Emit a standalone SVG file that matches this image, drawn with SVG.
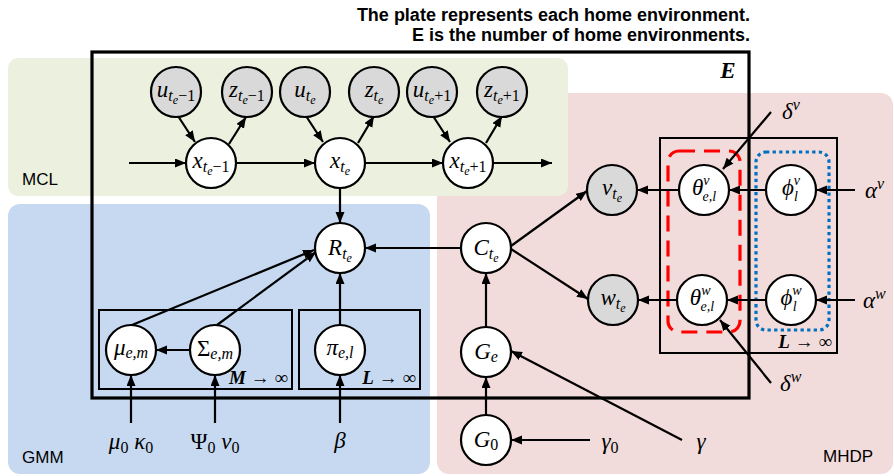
<svg xmlns="http://www.w3.org/2000/svg" width="894" height="476" viewBox="0 0 894 476">
<style>
.bg{stroke:none}
.nd{stroke:#000;stroke-width:2.2;fill:#fff}
.obs{fill:#d9d9d9}
.plate{fill:none;stroke:#000;stroke-width:2}
.eplate{fill:none;stroke:#000;stroke-width:3.2}
.ca{stroke:#000;stroke-width:2.2;fill:none;marker-end:url(#ah)}
.m{font-family:"Liberation Serif","DejaVu Serif",serif;font-style:italic;font-size:23px;text-anchor:middle;fill:#000}
.st{text-anchor:start}
.s{font-size:16px}
.sp{font-size:14px}
.ss{font-size:12px}
.up{font-style:normal}
.lab{font-family:"Liberation Sans",Arial,sans-serif;font-size:17px;fill:#000}
.title{font-family:"Liberation Sans",Arial,sans-serif;font-size:18px;font-weight:bold;text-anchor:end;fill:#000}
.pl{font-family:"Liberation Serif","DejaVu Serif",serif;font-size:19px;text-anchor:end;fill:#000}
.b{font-weight:bold;font-style:italic}
</style>
<defs>
<marker id="ah" markerUnits="userSpaceOnUse" markerWidth="12" markerHeight="10" refX="11" refY="4.5" orient="auto">
<path d="M0,0 L11,4.5 L0,9 z" fill="#000"/>
</marker>
</defs>

<g id="panels">
<rect class="bg" x="437" y="93" width="456" height="381" rx="12" fill="#f2dcdb"/>
<rect class="bg" x="8" y="58" width="560" height="138" rx="10" fill="#ebf1de"/>
<rect class="bg" x="8" y="204" width="422" height="270" rx="12" fill="#c6d9f1"/>
<text class="lab" x="22" y="185">MCL</text>
<text class="lab" x="22" y="463">GMM</text>
<text class="lab" x="823" y="462">MHDP</text>
</g>

<g id="title">
<text class="title" x="750" y="21">The plate represents each home environment.</text>
<text class="title" x="750" y="41">E is the number of home environments.</text>
</g>

<g id="plates">
<rect class="eplate" x="92" y="52" width="657" height="346"/>
<text class="m b" x="728" y="78" font-size="17">E</text>
<rect class="plate" x="99" y="310" width="193" height="79"/>
<text class="pl" x="288" y="384"><tspan class="b">M</tspan> → ∞</text>
<rect class="plate" x="299" y="310" width="121" height="79"/>
<text class="pl" x="416" y="384"><tspan class="b">L</tspan> → ∞</text>
<rect class="plate" x="660" y="138" width="177" height="215"/>
<text class="pl" x="832" y="348"><tspan class="b">L</tspan> → ∞</text>
<rect x="668" y="151" width="72" height="181" rx="11" fill="none" stroke="#ff0000" stroke-width="3.2" stroke-dasharray="16 9"/>
<rect x="756" y="152" width="73" height="178" rx="10" fill="none" stroke="#0070c0" stroke-width="3.2" stroke-dasharray="3.3 3.3"/>
</g>

<g id="connectors">
<line class="ca" x1="129" y1="163" x2="186" y2="163"/>
<line class="ca" x1="236" y1="163" x2="315" y2="163"/>
<line class="ca" x1="365" y1="163" x2="443" y2="163"/>
<line class="ca" x1="493" y1="163" x2="552" y2="163"/>
<line class="ca" x1="178" y1="116" x2="195" y2="142"/>
<line class="ca" x1="229" y1="144" x2="246" y2="117"/>
<line class="ca" x1="306" y1="116" x2="323" y2="142"/>
<line class="ca" x1="358" y1="143" x2="374" y2="116"/>
<line class="ca" x1="433" y1="116" x2="450" y2="142"/>
<line class="ca" x1="486" y1="143" x2="502" y2="116"/>
<line class="ca" x1="340" y1="188" x2="340" y2="223"/>
<line class="ca" x1="461" y1="248" x2="365" y2="248"/>
<line class="ca" x1="486" y1="327" x2="486" y2="273"/>
<line class="ca" x1="486" y1="415" x2="486" y2="377"/>
<line class="ca" x1="590" y1="440" x2="511" y2="440"/>
<line class="ca" x1="682" y1="440" x2="511" y2="351"/>
<line class="ca" x1="511" y1="246" x2="587" y2="191"/>
<line class="ca" x1="511" y1="249" x2="588" y2="299"/>
<line class="ca" x1="679" y1="190" x2="637" y2="190"/>
<line class="ca" x1="766" y1="190" x2="729" y2="190"/>
<line class="ca" x1="855" y1="190" x2="816" y2="190"/>
<line class="ca" x1="677" y1="300" x2="638" y2="300"/>
<line class="ca" x1="766" y1="300" x2="727" y2="300"/>
<line class="ca" x1="855" y1="300" x2="816" y2="300"/>
<line class="ca" x1="771" y1="112" x2="723" y2="169"/>
<line class="ca" x1="771" y1="383" x2="720" y2="320"/>
<line class="ca" x1="190" y1="350" x2="156" y2="350"/>
<line class="ca" x1="132" y1="325" x2="314" y2="250"/>
<line class="ca" x1="217" y1="325" x2="316" y2="252"/>
<line class="ca" x1="340" y1="325" x2="340" y2="273"/>
<line class="ca" x1="131" y1="423" x2="131" y2="375"/>
<line class="ca" x1="215" y1="423" x2="215" y2="375"/>
<line class="ca" x1="340" y1="423" x2="340" y2="375"/>
</g>

<g id="n-u1"><circle class="nd obs" cx="176" cy="92" r="25"/><text class="m" x="176" y="97">u<tspan class="s" dy="4">t</tspan><tspan class="ss" dy="3">e</tspan><tspan class="s up" dy="-3">−1</tspan></text></g>
<g id="n-z1"><circle class="nd obs" cx="247" cy="92" r="25"/><text class="m" x="247" y="97">z<tspan class="s" dy="4">t</tspan><tspan class="ss" dy="3">e</tspan><tspan class="s up" dy="-3">−1</tspan></text></g>
<g id="n-u2"><circle class="nd obs" cx="305" cy="92" r="25"/><text class="m" x="305" y="97">u<tspan class="s" dy="4">t</tspan><tspan class="ss" dy="3">e</tspan></text></g>
<g id="n-z2"><circle class="nd obs" cx="374" cy="92" r="25"/><text class="m" x="374" y="97">z<tspan class="s" dy="4">t</tspan><tspan class="ss" dy="3">e</tspan></text></g>
<g id="n-u3"><circle class="nd obs" cx="432" cy="92" r="25"/><text class="m" x="432" y="97">u<tspan class="s" dy="4">t</tspan><tspan class="ss" dy="3">e</tspan><tspan class="s up" dy="-3">+1</tspan></text></g>
<g id="n-z3"><circle class="nd obs" cx="502" cy="92" r="25"/><text class="m" x="502" y="97">z<tspan class="s" dy="4">t</tspan><tspan class="ss" dy="3">e</tspan><tspan class="s up" dy="-3">+1</tspan></text></g>
<g id="n-x1"><circle class="nd" cx="211" cy="163" r="25"/><text class="m" x="211" y="168">x<tspan class="s" dy="4">t</tspan><tspan class="ss" dy="3">e</tspan><tspan class="s up" dy="-3">−1</tspan></text></g>
<g id="n-x2"><circle class="nd" cx="340" cy="163" r="25"/><text class="m" x="340" y="168">x<tspan class="s" dy="4">t</tspan><tspan class="ss" dy="3">e</tspan></text></g>
<g id="n-x3"><circle class="nd" cx="468" cy="163" r="25"/><text class="m" x="468" y="168">x<tspan class="s" dy="4">t</tspan><tspan class="ss" dy="3">e</tspan><tspan class="s up" dy="-3">+1</tspan></text></g>
<g id="n-R"><circle class="nd" cx="340" cy="248" r="25"/><text class="m" x="340" y="255">R<tspan class="s" dy="4">t</tspan><tspan class="ss" dy="3">e</tspan></text></g>
<g id="n-C"><circle class="nd" cx="486" cy="248" r="25"/><text class="m" x="486" y="255">C<tspan class="s" dy="4">t</tspan><tspan class="ss" dy="3">e</tspan></text></g>
<g id="n-Ge"><circle class="nd" cx="486" cy="352" r="25"/><text class="m" x="486" y="359">G<tspan class="s" dy="3">e</tspan></text></g>
<g id="n-G0"><circle class="nd" cx="486" cy="440" r="25"/><text class="m" x="486" y="447">G<tspan class="s up" dy="3">0</tspan></text></g>
<g id="n-v"><circle class="nd obs" cx="612" cy="190" r="25"/><text class="m" x="612" y="195">v<tspan class="s" dy="4">t</tspan><tspan class="ss" dy="3">e</tspan></text></g>
<g id="n-w"><circle class="nd obs" cx="613" cy="300" r="25"/><text class="m" x="613" y="305">w<tspan class="s" dy="4">t</tspan><tspan class="ss" dy="3">e</tspan></text></g>
<g id="n-thv"><circle class="nd" cx="704" cy="190" r="25"/><text class="m" x="704" y="195">θ<tspan class="sp" dy="-10">v</tspan><tspan class="sp" dx="-7" dy="16">e,l</tspan></text></g>
<g id="n-thw"><circle class="nd" cx="702" cy="300" r="25"/><text class="m" x="702" y="305">θ<tspan class="sp" dy="-10">w</tspan><tspan class="sp" dx="-10" dy="16">e,l</tspan></text></g>
<g id="n-phv"><circle class="nd" cx="791" cy="190" r="25"/><text class="m" x="791" y="195">ϕ<tspan class="sp" dy="-10">v</tspan><tspan class="sp" dx="-6" dy="16">l</tspan></text></g>
<g id="n-phw"><circle class="nd" cx="791" cy="300" r="25"/><text class="m" x="791" y="305">ϕ<tspan class="sp" dy="-10">w</tspan><tspan class="sp" dx="-9" dy="16">l</tspan></text></g>
<g id="n-mu"><circle class="nd" cx="131" cy="350" r="25"/><text class="m" x="131" y="355">μ<tspan class="s" dy="3">e,m</tspan></text></g>
<g id="n-sig"><circle class="nd" cx="215" cy="350" r="25"/><text class="m" x="215" y="356"><tspan class="up">Σ</tspan><tspan class="s" dy="3">e,m</tspan></text></g>
<g id="n-pi"><circle class="nd" cx="340" cy="350" r="25"/><text class="m" x="340" y="355">π<tspan class="s" dy="3">e,l</tspan></text></g>

<g id="params">
<text class="m" x="131" y="449">μ<tspan class="s up" dy="4">0</tspan><tspan dy="-4"> κ</tspan><tspan class="s up" dy="4">0</tspan></text>
<text class="m" x="215" y="449"><tspan class="up">Ψ</tspan><tspan class="s up" dy="4">0</tspan><tspan dy="-4"> ν</tspan><tspan class="s up" dy="4">0</tspan></text>
<text class="m" x="340" y="448">β</text>
<text class="m" x="610" y="449">γ<tspan class="s up" dy="4">0</tspan></text>
<text class="m" x="701" y="449">γ</text>
<text class="m st" x="865" y="198">α<tspan class="s" dy="-9">v</tspan></text>
<text class="m st" x="863" y="308">α<tspan class="s" dy="-9">w</tspan></text>
<text class="m st" x="782" y="119">δ<tspan class="s" dy="-9">v</tspan></text>
<text class="m st" x="780" y="391">δ<tspan class="s" dy="-9">w</tspan></text>
</g>
</svg>
